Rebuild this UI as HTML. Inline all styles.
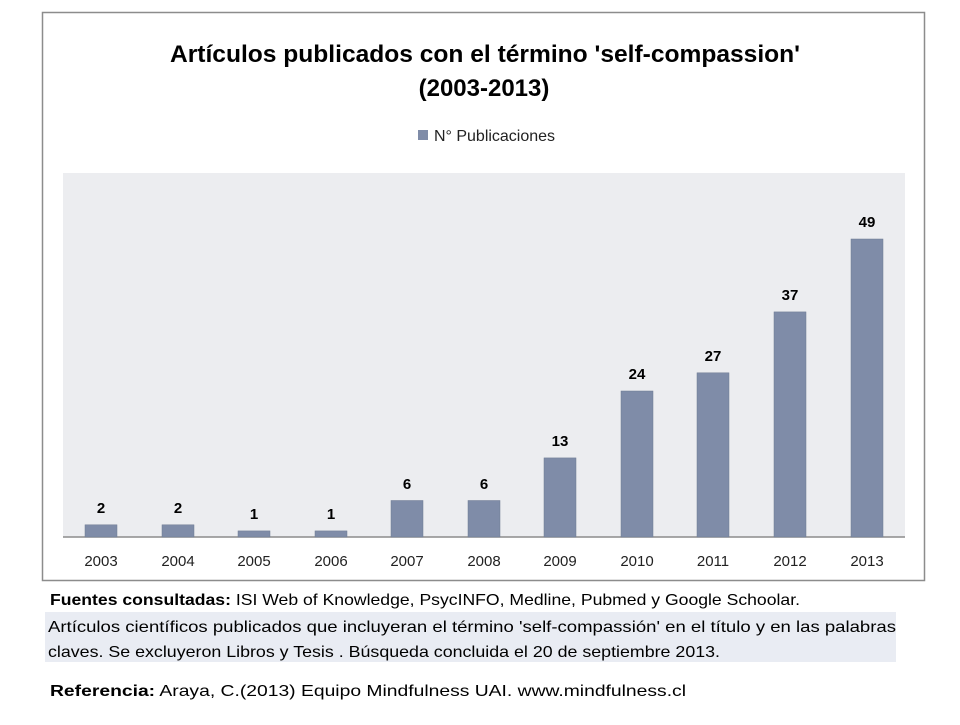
<!DOCTYPE html>
<html><head><meta charset="utf-8"><style>
body{margin:0;background:#fff;width:960px;height:720px;overflow:hidden;font-family:"Liberation Sans",sans-serif;}
</style></head><body>
<svg width="960" height="720" xmlns="http://www.w3.org/2000/svg" font-family="Liberation Sans, sans-serif">
<rect x="42.5" y="12.5" width="882" height="568" fill="#fff" stroke="#8c8c8c" stroke-width="1.5"/>
<text x="170" y="62" font-size="24" font-weight="bold" textLength="630" lengthAdjust="spacingAndGlyphs">Artículos publicados con el término 'self-compassion'</text>
<text x="484" y="96" text-anchor="middle" font-size="24" font-weight="bold">(2003-2013)</text>
<rect x="418" y="130" width="10" height="10" fill="#7f8ca8"/>
<text x="434" y="141" font-size="16" fill="#222" textLength="121">N° Publicaciones</text>
<rect x="63" y="173" width="842" height="364" fill="#ecedf0"/>
<line x1="63" y1="537" x2="905" y2="537" stroke="#8c8c8c" stroke-width="1.5"/>
<g fill="#7f8ca8" stroke="#6f7a92" stroke-width="0.5">
<rect x="85" y="524.8" width="32" height="12.2"/>
<rect x="162" y="524.8" width="32" height="12.2"/>
<rect x="238" y="530.9" width="32" height="6.1"/>
<rect x="315" y="530.9" width="32" height="6.1"/>
<rect x="391" y="500.5" width="32" height="36.5"/>
<rect x="468" y="500.5" width="32" height="36.5"/>
<rect x="544" y="457.9" width="32" height="79.1"/>
<rect x="621" y="391" width="32" height="146"/>
<rect x="697" y="372.8" width="32" height="164.2"/>
<rect x="774" y="311.9" width="32" height="225.1"/>
<rect x="851" y="239" width="32" height="298"/>
</g>
<g font-size="15" font-weight="bold" text-anchor="middle">
<text x="101" y="513">2</text><text x="178" y="513">2</text><text x="254" y="519">1</text><text x="331" y="519">1</text>
<text x="407" y="489">6</text><text x="484" y="489">6</text><text x="560" y="446">13</text><text x="637" y="379">24</text>
<text x="713" y="361">27</text><text x="790" y="300">37</text><text x="867" y="227">49</text>
</g>
<g font-size="15" text-anchor="middle" fill="#222">
<text x="101" y="566">2003</text><text x="178" y="566">2004</text><text x="254" y="566">2005</text><text x="331" y="566">2006</text>
<text x="407" y="566">2007</text><text x="484" y="566">2008</text><text x="560" y="566">2009</text><text x="637" y="566">2010</text>
<text x="713" y="566">2011</text><text x="790" y="566">2012</text><text x="867" y="566">2013</text>
</g>
<rect x="45" y="612" width="851" height="50" fill="#e9ecf3"/>
<text x="50" y="605" font-size="16" textLength="750" lengthAdjust="spacingAndGlyphs"><tspan font-weight="bold">Fuentes consultadas:</tspan> ISI Web of Knowledge, PsycINFO, Medline, Pubmed y Google Schoolar.</text>
<text x="48" y="632" font-size="16" textLength="848" lengthAdjust="spacingAndGlyphs">Artículos científicos publicados que incluyeran el término 'self-compassión' en el título y en las palabras</text>
<text x="48" y="657" font-size="16" textLength="672" lengthAdjust="spacingAndGlyphs">claves. Se excluyeron Libros y Tesis . Búsqueda concluida el 20 de septiembre 2013.</text>
<text x="50" y="696" font-size="16" textLength="636" lengthAdjust="spacingAndGlyphs"><tspan font-weight="bold">Referencia:</tspan> Araya, C.(2013) Equipo Mindfulness UAI. www.mindfulness.cl</text>
</svg>
</body></html>
